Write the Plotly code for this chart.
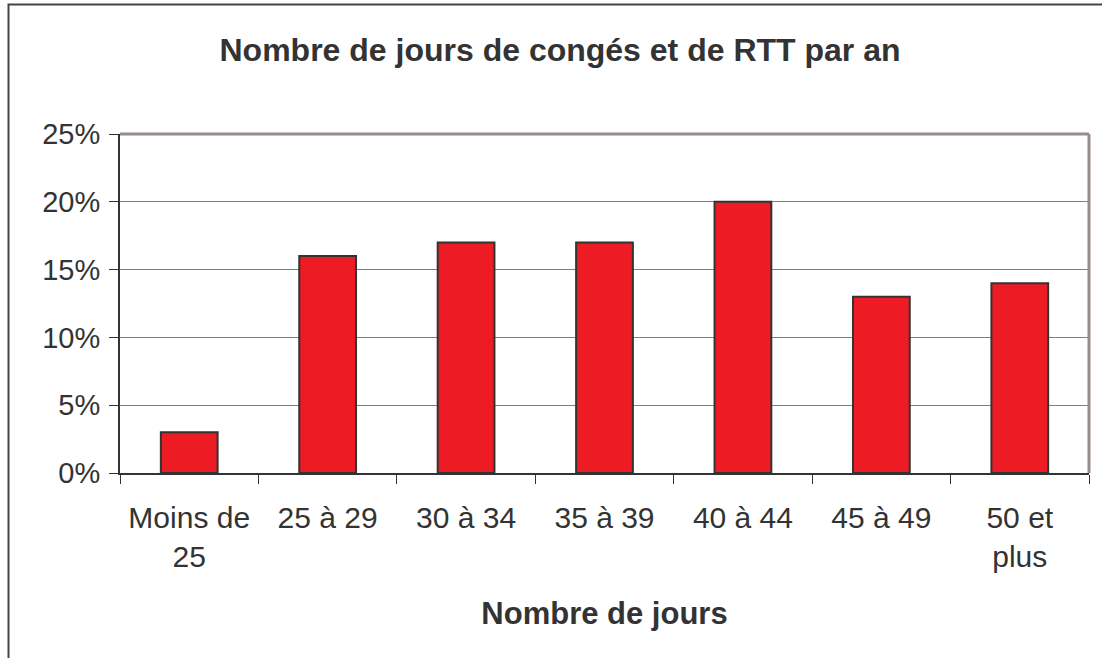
import plotly.graph_objects as go

categories = ["Moins de<br>25", "25 à 29", "30 à 34", "35 à 39", "40 à 44", "45 à 49", "50 et<br>plus"]
values = [0.03, 0.16, 0.17, 0.17, 0.20, 0.13, 0.14]
y_ticks = [0, 0.05, 0.10, 0.15, 0.20, 0.25]

W, H = 1102, 658
L, R, T, B = 120, 13, 134, 185
pw = W - L - R
ph = H - T - B

fig = go.Figure(go.Bar(
    x=categories, y=values, width=0.41,
    marker=dict(color="#ED1C24", line=dict(color="#333333", width=2)),
))

txt = "#333333"
fig.update_layout(
    width=W, height=H,
    margin=dict(l=L, r=R, t=T, b=B),
    paper_bgcolor="white", plot_bgcolor="white",
    showlegend=False,
    font=dict(family="Liberation Sans, Arial, sans-serif", color=txt, size=29),
    title=dict(text="<b>Nombre de jours de congés et de RTT par an</b>",
               x=560 / W, xanchor="center", y=1 - 50 / H, yanchor="middle",
               font=dict(size=32, color=txt)),
    xaxis=dict(type="category", tickson="boundaries", ticks="outside", ticklen=9,
               tickcolor=txt, tickwidth=1, showline=True, linecolor=txt, linewidth=2,
               showgrid=False, tickfont=dict(size=30, color=txt), ticklabelstandoff=17,
               title=dict(text="<b>Nombre de jours</b>", font=dict(size=31, color=txt), standoff=30)),
    yaxis=dict(range=[0, 0.25], tickvals=y_ticks, tickformat=".0%", ticks="outside", ticklen=9,
               tickcolor=txt, tickwidth=1, showline=True, linecolor=txt, linewidth=2,
               showgrid=True, gridcolor="#808080", gridwidth=1, zeroline=False,
               tickfont=dict(size=29, color=txt), ticklabelstandoff=3),
    shapes=[
        dict(type="line", xref="paper", yref="paper", x0=0, x1=1, y0=1, y1=1,
             line=dict(color="#968C88", width=3)),
        dict(type="line", xref="paper", yref="paper", x0=1, x1=1, y0=0, y1=1,
             line=dict(color="#968C88", width=3)),
        dict(type="rect", xref="paper", yref="paper",
             x0=(8.5 - L) / pw, x1=(W + 20 - L) / pw,
             y0=(H - B - (H + 20)) / ph, y1=(H - B - 4.5) / ph,
             line=dict(color="#444444", width=2), layer="below"),
    ],
)

fig.write_html("out.html", config={"displayModeBar": False},
               post_script="document.body.style.margin='0';document.body.style.overflow='hidden';")
